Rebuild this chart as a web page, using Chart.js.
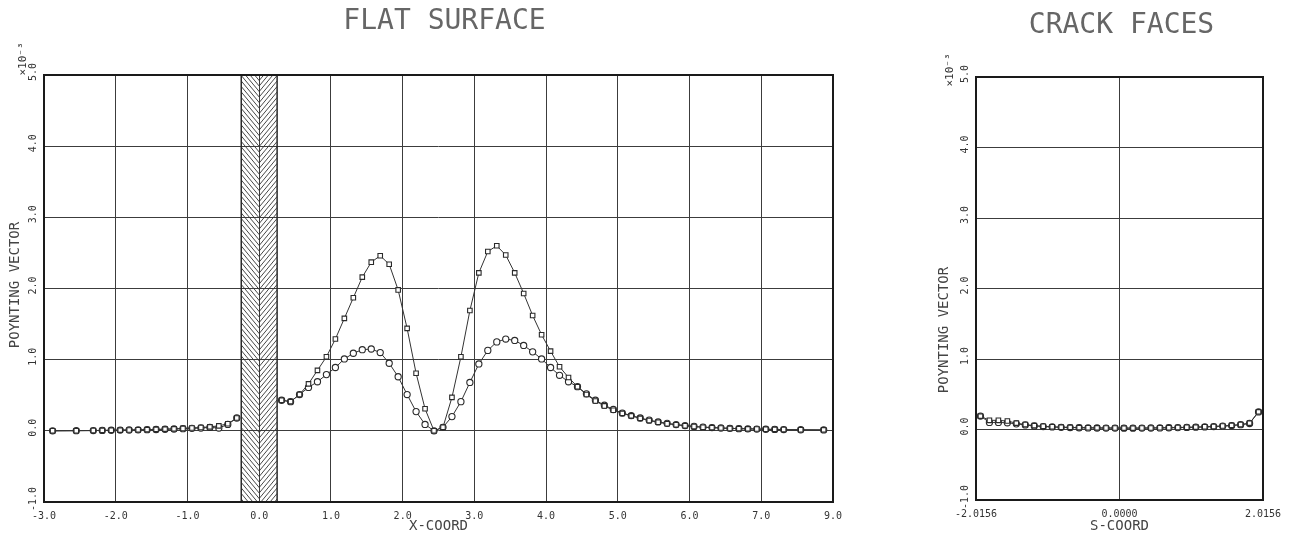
<!DOCTYPE html>
<html>
<head>
<meta charset="utf-8">
<script src="https://cdn.jsdelivr.net/npm/chart.js@4.4.0/dist/chart.umd.min.js"></script>
<style>
  body { margin: 0; background: #fff; }
  canvas { position: absolute; top: 0; }
  #flatChart { left: 0; }
  #crackChart { left: 890px; }
</style>
</head>
<body>
<canvas id="flatChart" width="890" height="537"></canvas>
<canvas id="crackChart" width="407" height="537"></canvas>
<script>
// flat surface, left of the crack
const flatTailX = [-2.88, -2.55, -2.3125, -2.1875, -2.0625, -1.9375, -1.8125, -1.6875, -1.5625, -1.4375,
    -1.3125, -1.1875, -1.0625, -0.9375, -0.8125, -0.6875, -0.5625, -0.4375, -0.3125];
const flatTailSquares = [0.0, 0.002, 0.004, 0.006, 0.008, 0.010, 0.012, 0.014, 0.017, 0.020,
    0.024, 0.028, 0.034, 0.040, 0.047, 0.056, 0.070, 0.100, 0.180];
const flatTailCircles = [0.0, 0.002, 0.004, 0.006, 0.008, 0.010, 0.012, 0.014, 0.016, 0.019,
    0.022, 0.026, 0.030, 0.035, 0.040, 0.048, 0.040, 0.090, 0.180];

// flat surface, right of the crack
const flatX = [
    0.3125, 0.4375, 0.5625, 0.6875, 0.8125, 0.9375, 1.0625, 1.1875,
    1.3125, 1.4375, 1.5625, 1.6875, 1.8125, 1.9375, 2.0625, 2.1875,
    2.3125, 2.4375, 2.5625, 2.6875, 2.8125, 2.9375, 3.0625, 3.1875,
    3.3125, 3.4375, 3.5625, 3.6875, 3.8125, 3.9375, 4.0625, 4.1875,
    4.3125, 4.4375, 4.5625, 4.6875, 4.8125, 4.9375, 5.0625, 5.1875,
    5.3125, 5.4375, 5.5625, 5.6875, 5.8125, 5.9375, 6.0625, 6.1875,
    6.3125, 6.4375, 6.5625, 6.6875, 6.8125, 6.9375, 7.0625, 7.1875,
    7.3125, 7.55, 7.87];
const flatSquares = [
    0.43, 0.41, 0.51, 0.66, 0.85, 1.04, 1.29, 1.58,
    1.87, 2.16, 2.37, 2.46, 2.34, 1.98, 1.44, 0.81,
    0.31, 0.00, 0.05, 0.47, 1.04, 1.69, 2.22, 2.52,
    2.60, 2.47, 2.22, 1.93, 1.62, 1.35, 1.12, 0.90,
    0.75, 0.62, 0.51, 0.42, 0.35, 0.29, 0.245, 0.21,
    0.175, 0.145, 0.12, 0.10, 0.085, 0.072, 0.060, 0.050,
    0.045, 0.040, 0.034, 0.031, 0.028, 0.025, 0.022, 0.020,
    0.018, 0.015, 0.013];
const flatCircles = [
    0.43, 0.41, 0.51, 0.61, 0.69, 0.79, 0.89, 1.01,
    1.09, 1.14, 1.15, 1.10, 0.95, 0.76, 0.51, 0.27,
    0.09, 0.00, 0.05, 0.20, 0.41, 0.68, 0.94, 1.13,
    1.25, 1.29, 1.27, 1.20, 1.11, 1.01, 0.89, 0.78,
    0.69, 0.62, 0.52, 0.43, 0.36, 0.30, 0.25, 0.215,
    0.18, 0.15, 0.125, 0.105, 0.088, 0.074, 0.062, 0.052,
    0.046, 0.040, 0.035, 0.031, 0.028, 0.025, 0.022, 0.020,
    0.018, 0.015, 0.013];

// crack faces
const crackX = [
    -1.953, -1.827, -1.701, -1.575, -1.449, -1.323, -1.197, -1.071,
    -0.945, -0.819, -0.693, -0.567, -0.441, -0.315, -0.189, -0.063,
    0.063, 0.189, 0.315, 0.441, 0.567, 0.693, 0.819, 0.945,
    1.071, 1.197, 1.323, 1.449, 1.575, 1.701, 1.827, 1.953];
const crackSquares = [
    0.19, 0.13, 0.13, 0.12, 0.09, 0.07, 0.055, 0.045,
    0.038, 0.033, 0.030, 0.027, 0.025, 0.023, 0.022, 0.021,
    0.020, 0.020, 0.021, 0.022, 0.024, 0.026, 0.028, 0.031,
    0.034, 0.038, 0.043, 0.050, 0.058, 0.070, 0.090, 0.250];
const crackCircles = [
    0.19, 0.10, 0.10, 0.095, 0.08, 0.065, 0.05, 0.042,
    0.036, 0.031, 0.028, 0.025, 0.023, 0.021, 0.020, 0.020,
    0.019, 0.019, 0.020, 0.021, 0.023, 0.025, 0.027, 0.030,
    0.033, 0.037, 0.042, 0.048, 0.056, 0.068, 0.085, 0.250];

// axes
const yTicks = [-1, 0, 1, 2, 3, 4, 5];
const yTickLabels = ['-1.0', '0.0', '1.0', '2.0', '3.0', '4.0', '5.0'];
const flatXTicks = [-3, -2, -1, 0, 1, 2, 3, 4, 5, 6, 7, 8];
const flatXTickLabels = ['-3.0', '-2.0', '-1.0', '0.0', '1.0', '2.0', '3.0', '4.0', '5.0', '6.0', '7.0', '9.0'];
const crackXTicks = [-2.0156, 0, 2.0156];
const crackXTickLabels = ['-2.0156', '0.0000', '2.0156'];
const crackBand = [-0.25, 0.25];

const MONO = '"DejaVu Sans Mono", monospace';
const INK = '#2a2a2a';

const toPoints = (xs, ys) => xs.map((x, i) => ({x: x, y: ys[i]}));

const squareStyle = {
    borderColor: '#333',
    borderWidth: 1,
    pointStyle: 'rect',
    pointRadius: 3.2,
    pointBackgroundColor: '#fff',
    pointBorderColor: INK,
    pointBorderWidth: 1.1,
    tension: 0,
    spanGaps: false,
};
const circleStyle = Object.assign({}, squareStyle, {pointStyle: 'circle', pointRadius: 3.1});

function decorations(cfg) {
    return {
        id: 'decorations',
        beforeDatasetsDraw(chart) {
            if (!cfg.band) return;
            const {ctx, chartArea: a, scales: {x}} = chart;
            const x0 = x.getPixelForValue(cfg.band[0]);
            const x1 = x.getPixelForValue(cfg.band[1]);
            const xc = (x0 + x1) / 2;
            const drop = (xc - x0) * 1.2;
            ctx.save();
            ctx.beginPath();
            ctx.rect(x0, a.top, x1 - x0, a.bottom - a.top);
            ctx.clip();
            ctx.strokeStyle = '#333';
            ctx.lineWidth = 0.9;
            ctx.beginPath();
            for (let yy = a.top - drop; yy < a.bottom; yy += 5.5) {
                ctx.moveTo(x0, yy);
                ctx.lineTo(xc, yy + drop);
                ctx.moveTo(x1, yy);
                ctx.lineTo(xc, yy + drop);
            }
            ctx.stroke();
            ctx.restore();
            ctx.save();
            ctx.strokeStyle = INK;
            ctx.lineWidth = 1.5;
            ctx.beginPath();
            ctx.moveTo(x0, a.top);
            ctx.lineTo(x0, a.bottom);
            ctx.moveTo(x1, a.top);
            ctx.lineTo(x1, a.bottom);
            ctx.stroke();
            ctx.restore();
        },
        afterDraw(chart) {
            const {ctx, chartArea: a, scales: {y}} = chart;
            ctx.save();
            // frame
            ctx.strokeStyle = '#1a1a1a';
            ctx.lineWidth = 2;
            ctx.strokeRect(a.left, a.top, a.right - a.left, a.bottom - a.top);
            // title
            ctx.fillStyle = '#666';
            ctx.font = '28px ' + MONO;
            ctx.textAlign = 'center';
            ctx.textBaseline = 'alphabetic';
            ctx.fillText(cfg.title, (a.left + a.right) / 2 + cfg.titleShift, cfg.titleBase);
            // rotated y tick labels
            ctx.fillStyle = '#333';
            ctx.font = '10px ' + MONO;
            ctx.textBaseline = 'middle';
            yTicks.forEach((v, i) => {
                ctx.save();
                ctx.translate(a.left - 11, y.getPixelForValue(v) - 3);
                ctx.rotate(-Math.PI / 2);
                ctx.fillText(yTickLabels[i], 0, 0);
                ctx.restore();
            });
            // scale factor
            ctx.save();
            ctx.translate(a.left + cfg.expDx, a.top + cfg.expDy);
            ctx.rotate(-Math.PI / 2);
            ctx.font = '11px ' + MONO;
            ctx.fillText('\u00d710\u207b\u00b3', 0, 0);
            ctx.restore();
            // y axis title
            ctx.save();
            ctx.translate(cfg.yTitleX, cfg.yTitleY);
            ctx.rotate(-Math.PI / 2);
            ctx.fillStyle = '#444';
            ctx.font = '14px ' + MONO;
            ctx.fillText('POYNTING VECTOR', 0, 0);
            ctx.restore();
            ctx.restore();
        }
    };
}

function makeOptions(xTicks, xLabels, xTitle, xMin, xMax, yWidth, xHeight, padRight, padTop) {
    const gridStyle = {color: '#3c3c3c', lineWidth: 1, drawTicks: false};
    return {
        responsive: false,
        animation: false,
        events: [],
        layout: {padding: {top: padTop, right: padRight, left: 0, bottom: 0}},
        scales: {
            x: {
                type: 'linear',
                min: xMin,
                max: xMax,
                afterBuildTicks: s => { s.ticks = xTicks.map(v => ({value: v})); },
                ticks: {
                    autoSkip: false,
                    maxRotation: 0,
                    padding: 8,
                    color: '#333',
                    font: {family: MONO, size: 10},
                    callback: (v, i) => xLabels[i],
                },
                grid: gridStyle,
                border: {display: false},
                title: {
                    display: true,
                    text: xTitle,
                    color: '#444',
                    font: {family: MONO, size: 14},
                    padding: {top: 0, bottom: 2},
                },
                afterFit: s => { s.height = xHeight; s.paddingLeft = 0; s.paddingRight = 0; },
            },
            y: {
                type: 'linear',
                min: -1,
                max: 5,
                afterBuildTicks: s => { s.ticks = yTicks.map(v => ({value: v})); },
                ticks: {display: false},
                grid: gridStyle,
                border: {display: false},
                afterFit: s => { s.width = yWidth; s.paddingTop = 0; s.paddingBottom = 0; },
            },
        },
        plugins: {
            legend: {display: false},
            tooltip: {enabled: false},
        },
    };
}

const flatCtx = document.getElementById('flatChart').getContext('2d');
const flatChart = new Chart(flatCtx, {
    type: 'line',
    data: {
        datasets: [
            Object.assign({
                label: 'squares',
                data: [...toPoints(flatTailX, flatTailSquares), {x: 0, y: null}, ...toPoints(flatX, flatSquares)],
            }, squareStyle),
            Object.assign({
                label: 'circles',
                data: [...toPoints(flatTailX, flatTailCircles), {x: 0, y: null}, ...toPoints(flatX, flatCircles)],
            }, circleStyle),
        ],
    },
    options: makeOptions(flatXTicks, flatXTickLabels, 'X-COORD', -3, 8, 44, 35, 57, 75),
    plugins: [decorations({
        title: 'FLAT SURFACE', titleShift: 6, titleBase: 29,
        band: crackBand, expDx: -21, expDy: -16, yTitleX: 15, yTitleY: 285,
    })],
});

const crackCtx = document.getElementById('crackChart').getContext('2d');
const crackChart = new Chart(crackCtx, {
    type: 'line',
    data: {
        datasets: [
            Object.assign({label: 'squares', data: toPoints(crackX, crackSquares)}, squareStyle),
            Object.assign({label: 'circles', data: toPoints(crackX, crackCircles)}, circleStyle),
        ],
    },
    options: makeOptions(crackXTicks, crackXTickLabels, 'S-COORD', -2.0156, 2.0156, 86, 37, 34, 77),
    plugins: [decorations({
        title: 'CRACK FACES', titleShift: 2, titleBase: 33,
        band: null, expDx: -26, expDy: -7, yTitleX: 54, yTitleY: 330,
    })],
});
</script>
</body>
</html>
